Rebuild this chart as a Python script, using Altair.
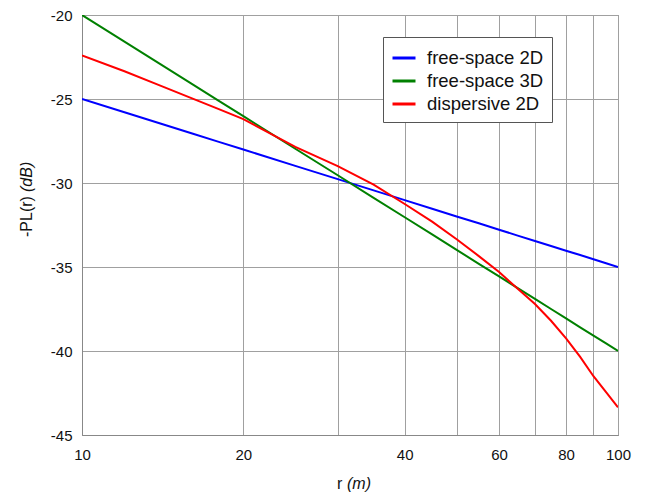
import altair as alt
import pandas as pd

r_vals = [10, 12, 14, 16, 18, 20, 25, 30, 35, 40, 45, 50, 55, 60, 65, 70, 75, 80, 85, 90, 95, 100]
free2d = [-25.0, -25.79, -26.46, -27.04, -27.55, -28.01, -28.98, -29.77, -30.44, -31.02, -31.53,
          -31.99, -32.40, -32.78, -33.13, -33.45, -33.75, -34.03, -34.29, -34.54, -34.78, -35.0]
free3d = [-20.0, -21.58, -22.92, -24.08, -25.11, -26.02, -27.96, -29.54, -30.88, -32.04, -33.06,
          -33.98, -34.81, -35.56, -36.26, -36.90, -37.50, -38.06, -38.59, -39.08, -39.55, -40.0]
disp2d = [-22.4, -23.35, -24.2, -24.95, -25.6, -26.2, -27.85, -29.0, -30.1, -31.25, -32.3,
          -33.35, -34.35, -35.3, -36.3, -37.2, -38.2, -39.25, -40.35, -41.5, -42.45, -43.35]
series_names = ["free-space 2D", "free-space 3D", "dispersive 2D"]
series_colors = ["#0000ff", "#008000", "#ff0000"]
x_ticks = [10, 20, 30, 40, 50, 60, 70, 80, 90, 100]
x_labels = [10, 20, 40, 60, 80, 100]
y_ticks = [-45, -40, -35, -30, -25, -20]

rows = []
for name, vals in zip(series_names, [free2d, free3d, disp2d]):
    for r, v in zip(r_vals, vals):
        rows.append({"r": r, "pl": v, "series": name})
df = pd.DataFrame(rows)

FONT = "Liberation Sans"
W, H = 536, 420

lines = alt.Chart(df).mark_line(strokeWidth=2, clip=True).encode(
    x=alt.X("r:Q",
            scale=alt.Scale(type="log", domain=[10, 100], nice=False),
            axis=alt.Axis(values=x_ticks, title=None, ticks=False, labelPadding=12,
                          labelFontSize=15, labelFont=FONT, labelColor="#111",
                          labelExpr="indexof(%s, datum.value) >= 0 ? '' + datum.value : ''" % str(x_labels),
                          gridColor="#a0a0a0", domainColor="#888888",
                          labelFlush=False)),
    y=alt.Y("pl:Q",
            scale=alt.Scale(domain=[-45, -20], nice=False, zero=False),
            axis=alt.Axis(values=y_ticks, title=None, ticks=False, labelPadding=10,
                          labelFontSize=15, labelFont=FONT, labelColor="#111",
                          labelExpr="'' + datum.value",
                          gridColor="#a0a0a0", domainColor="#888888")),
    color=alt.Color("series:N",
                    scale=alt.Scale(domain=series_names, range=series_colors),
                    legend=alt.Legend(title=None, orient="none", legendX=301, legendY=22,
                                      fillColor="white", strokeColor="#555555",
                                      padding=8, symbolType="stroke", symbolStrokeWidth=3,
                                      symbolSize=529, labelFontSize=18.5, labelFont=FONT,
                                      labelColor="#111", labelOffset=10, rowPadding=0)),
    order=alt.Order("r:Q"),
)

tdf = pd.DataFrame({"a": [0]})
xt1 = alt.Chart(tdf).mark_text(text="r", font=FONT, fontSize=16, align="left",
                               baseline="alphabetic", color="#111").encode(
    x=alt.value(255), y=alt.value(474))
xt2 = alt.Chart(tdf).mark_text(text="(m)", font=FONT, fontSize=16, fontStyle="italic",
                               align="left", baseline="alphabetic", color="#111").encode(
    x=alt.value(265), y=alt.value(474))
yt1 = alt.Chart(tdf).mark_text(text="-PL(r)", font=FONT, fontSize=16, align="left",
                               baseline="alphabetic", angle=270, color="#111").encode(
    x=alt.value(-50), y=alt.value(222))
yt2 = alt.Chart(tdf).mark_text(text="(dB)", font=FONT, fontSize=16, fontStyle="italic",
                               align="left", baseline="alphabetic", angle=270, color="#111").encode(
    x=alt.value(-50), y=alt.value(177))

chart = alt.layer(lines, xt1, xt2, yt1, yt2).properties(
    width=W, height=H,
    autosize=alt.AutoSizeParams(type="none"),
    padding={"left": 74, "top": 7, "right": 21, "bottom": 58},
    background="white",
).configure_view(stroke="#777777", strokeWidth=1)

chart.save("out.html", embed_options={"renderer": "svg", "actions": False})
